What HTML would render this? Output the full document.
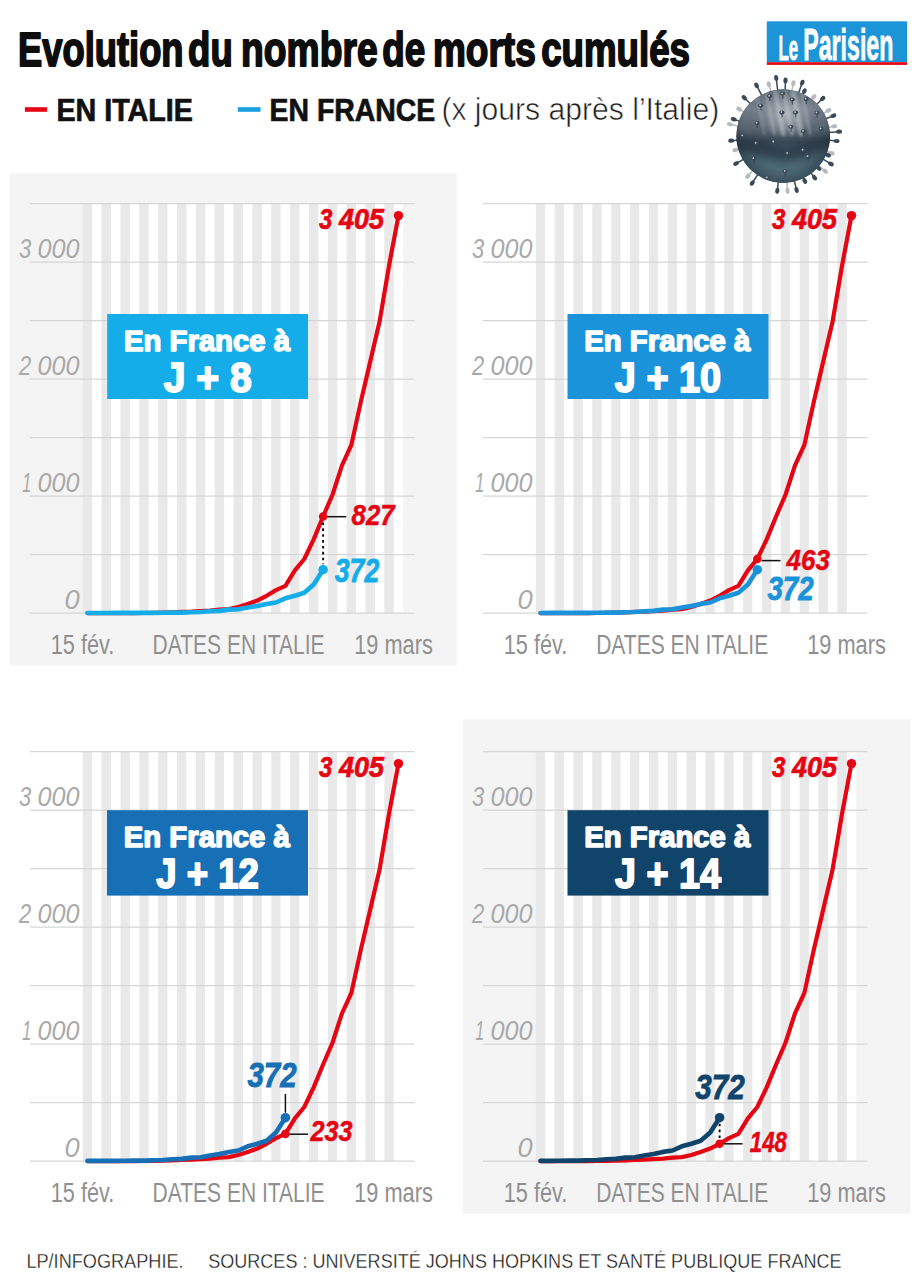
<!DOCTYPE html>
<html lang="fr"><head><meta charset="utf-8"><title>Evolution du nombre de morts cumulés</title>
<style>
html,body{margin:0;padding:0;background:#fff;}
body{width:918px;height:1280px;overflow:hidden;font-family:"Liberation Sans",sans-serif;}
svg{display:block;font-family:"Liberation Sans",sans-serif;}
</style></head><body>
<svg width="918" height="1280" viewBox="0 0 918 1280">
<defs>
<linearGradient id="vg" x1="0" y1="0" x2="0" y2="1">
<stop offset="0" stop-color="#66737f"/><stop offset=".2" stop-color="#7d8792"/><stop offset=".42" stop-color="#5d6975"/>
<stop offset=".56" stop-color="#3a4a57"/><stop offset=".72" stop-color="#46626e"/><stop offset="1" stop-color="#5f818c"/>
</linearGradient>
<filter id="bl3" x="-20%" y="-50%" width="140%" height="200%"><feGaussianBlur stdDeviation="3"/></filter>
<filter id="bl1" x="-100%" y="-20%" width="300%" height="140%"><feGaussianBlur stdDeviation="1.1"/></filter>
<radialGradient id="vh" cx=".5" cy=".5" r=".5">
<stop offset="0" stop-color="#c5c9ce" stop-opacity=".75"/><stop offset=".6" stop-color="#aab0b7" stop-opacity=".4"/><stop offset="1" stop-color="#9aa2aa" stop-opacity="0"/>
</radialGradient>
<radialGradient id="vr" cx=".5" cy=".42" r=".6">
<stop offset="0" stop-color="#1e2a36" stop-opacity="0"/><stop offset=".72" stop-color="#1e2a36" stop-opacity=".1"/>
<stop offset="1" stop-color="#1a2632" stop-opacity=".62"/>
</radialGradient>
</defs>
<rect width="918" height="1280" fill="#ffffff"/>

<text x="18.1" y="66.4" font-size="48.6" fill="#0d0d0d" font-weight="bold" font-style="normal" text-anchor="start" textLength="165.4" lengthAdjust="spacingAndGlyphs" stroke="#0d0d0d" stroke-width="1.9" stroke-linejoin="round">Evolution</text>
<text x="188.1" y="66.4" font-size="48.6" fill="#0d0d0d" font-weight="bold" font-style="normal" text-anchor="start" textLength="44.6" lengthAdjust="spacingAndGlyphs" stroke="#0d0d0d" stroke-width="1.9" stroke-linejoin="round">du</text>
<text x="241.1" y="66.4" font-size="48.6" fill="#0d0d0d" font-weight="bold" font-style="normal" text-anchor="start" textLength="136.5" lengthAdjust="spacingAndGlyphs" stroke="#0d0d0d" stroke-width="1.9" stroke-linejoin="round">nombre</text>
<text x="382.2" y="66.4" font-size="48.6" fill="#0d0d0d" font-weight="bold" font-style="normal" text-anchor="start" textLength="43.0" lengthAdjust="spacingAndGlyphs" stroke="#0d0d0d" stroke-width="1.9" stroke-linejoin="round">de</text>
<text x="432.9" y="66.4" font-size="48.6" fill="#0d0d0d" font-weight="bold" font-style="normal" text-anchor="start" textLength="102.9" lengthAdjust="spacingAndGlyphs" stroke="#0d0d0d" stroke-width="1.9" stroke-linejoin="round">morts</text>
<text x="541.2" y="66.4" font-size="48.6" fill="#0d0d0d" font-weight="bold" font-style="normal" text-anchor="start" textLength="148.8" lengthAdjust="spacingAndGlyphs" stroke="#0d0d0d" stroke-width="1.9" stroke-linejoin="round">cumulés</text>
<rect x="24.9" y="107.2" width="22.2" height="4.6" fill="#e50613"/>
<text x="56.4" y="120.6" font-size="31" fill="#111" font-weight="bold" font-style="normal" text-anchor="start" textLength="136.4" lengthAdjust="spacingAndGlyphs" stroke="#111" stroke-width="0.7">EN ITALIE</text>
<rect x="237.8" y="107.2" width="22.7" height="4.6" fill="#1a9fe0"/>
<text x="269.6" y="120.6" font-size="31" fill="#111" font-weight="bold" font-style="normal" text-anchor="start" textLength="165.6" lengthAdjust="spacingAndGlyphs" stroke="#111" stroke-width="0.7">EN FRANCE</text>
<text x="441.4" y="119.7" font-size="31" fill="#1c1c1c" font-weight="normal" font-style="normal" text-anchor="start" textLength="277.9" lengthAdjust="spacingAndGlyphs" stroke="#fff" stroke-width="0.55">(x jours après l’Italie)</text>
<rect x="766.8" y="21.3" width="140.2" height="41" fill="#1b95d8"/>
<rect x="766.8" y="62.2" width="140.2" height="2.7" fill="#e50613"/>
<text x="778.6" y="60.3" font-size="35.5" fill="#fff" font-weight="bold" font-style="normal" text-anchor="start" textLength="19.6" lengthAdjust="spacingAndGlyphs" stroke="#fff" stroke-width="0.8">Le</text>
<text x="803.2" y="60.3" font-size="44.3" fill="#fff" font-weight="bold" font-style="normal" text-anchor="start" textLength="90.2" lengthAdjust="spacingAndGlyphs" stroke="#fff" stroke-width="0.8">Parisien</text>
<g transform="translate(0,0)">
<rect x="10" y="173.3" width="446.9" height="491.99999999999994" fill="#f4f4f4"/>
<rect x="82.80" y="203.60" width="9.43" height="409.50" fill="#e9e9e9"/>
<rect x="92.22" y="203.60" width="9.43" height="409.50" fill="#ffffff"/>
<rect x="101.65" y="203.60" width="9.43" height="409.50" fill="#e9e9e9"/>
<rect x="111.08" y="203.60" width="9.43" height="409.50" fill="#ffffff"/>
<rect x="120.50" y="203.60" width="9.43" height="409.50" fill="#e9e9e9"/>
<rect x="129.93" y="203.60" width="9.43" height="409.50" fill="#ffffff"/>
<rect x="139.35" y="203.60" width="9.43" height="409.50" fill="#e9e9e9"/>
<rect x="148.78" y="203.60" width="9.43" height="409.50" fill="#ffffff"/>
<rect x="158.20" y="203.60" width="9.43" height="409.50" fill="#e9e9e9"/>
<rect x="167.62" y="203.60" width="9.43" height="409.50" fill="#ffffff"/>
<rect x="177.05" y="203.60" width="9.43" height="409.50" fill="#e9e9e9"/>
<rect x="186.48" y="203.60" width="9.43" height="409.50" fill="#ffffff"/>
<rect x="195.90" y="203.60" width="9.43" height="409.50" fill="#e9e9e9"/>
<rect x="205.32" y="203.60" width="9.43" height="409.50" fill="#ffffff"/>
<rect x="214.75" y="203.60" width="9.43" height="409.50" fill="#e9e9e9"/>
<rect x="224.18" y="203.60" width="9.43" height="409.50" fill="#ffffff"/>
<rect x="233.60" y="203.60" width="9.43" height="409.50" fill="#e9e9e9"/>
<rect x="243.03" y="203.60" width="9.43" height="409.50" fill="#ffffff"/>
<rect x="252.45" y="203.60" width="9.43" height="409.50" fill="#e9e9e9"/>
<rect x="261.88" y="203.60" width="9.43" height="409.50" fill="#ffffff"/>
<rect x="271.30" y="203.60" width="9.43" height="409.50" fill="#e9e9e9"/>
<rect x="280.73" y="203.60" width="9.43" height="409.50" fill="#ffffff"/>
<rect x="290.15" y="203.60" width="9.43" height="409.50" fill="#e9e9e9"/>
<rect x="299.57" y="203.60" width="9.43" height="409.50" fill="#ffffff"/>
<rect x="309.00" y="203.60" width="9.43" height="409.50" fill="#e9e9e9"/>
<rect x="318.43" y="203.60" width="9.43" height="409.50" fill="#ffffff"/>
<rect x="327.85" y="203.60" width="9.43" height="409.50" fill="#e9e9e9"/>
<rect x="337.28" y="203.60" width="9.43" height="409.50" fill="#ffffff"/>
<rect x="346.70" y="203.60" width="9.43" height="409.50" fill="#e9e9e9"/>
<rect x="356.13" y="203.60" width="9.43" height="409.50" fill="#ffffff"/>
<rect x="365.55" y="203.60" width="9.43" height="409.50" fill="#e9e9e9"/>
<rect x="374.98" y="203.60" width="9.43" height="409.50" fill="#ffffff"/>
<rect x="384.40" y="203.60" width="9.43" height="409.50" fill="#e9e9e9"/>
<rect x="393.83" y="203.60" width="9.43" height="409.50" fill="#ffffff"/>
<line x1="30.0" y1="613.10" x2="414.5" y2="613.10" stroke="#d6d6d6" stroke-width="1.4"/>
<line x1="30.0" y1="554.60" x2="414.5" y2="554.60" stroke="#d6d6d6" stroke-width="1.4"/>
<line x1="30.0" y1="496.10" x2="414.5" y2="496.10" stroke="#d6d6d6" stroke-width="1.4"/>
<line x1="30.0" y1="437.60" x2="414.5" y2="437.60" stroke="#d6d6d6" stroke-width="1.4"/>
<line x1="30.0" y1="379.10" x2="414.5" y2="379.10" stroke="#d6d6d6" stroke-width="1.4"/>
<line x1="30.0" y1="320.60" x2="414.5" y2="320.60" stroke="#d6d6d6" stroke-width="1.4"/>
<line x1="30.0" y1="262.10" x2="414.5" y2="262.10" stroke="#d6d6d6" stroke-width="1.4"/>
<line x1="30.0" y1="203.60" x2="414.5" y2="203.60" stroke="#d6d6d6" stroke-width="1.4"/>
<text x="79.6" y="258.0" font-size="27.3" fill="#a9a9a9" font-weight="normal" font-style="italic" text-anchor="end" textLength="42.0" lengthAdjust="spacingAndGlyphs">000</text>
<text x="31.2" y="258.0" font-size="27.3" fill="#a9a9a9" font-weight="normal" font-style="italic" text-anchor="end" textLength="12.2" lengthAdjust="spacingAndGlyphs">3</text>
<text x="79.6" y="375.0" font-size="27.3" fill="#a9a9a9" font-weight="normal" font-style="italic" text-anchor="end" textLength="42.0" lengthAdjust="spacingAndGlyphs">000</text>
<text x="31.2" y="375.0" font-size="27.3" fill="#a9a9a9" font-weight="normal" font-style="italic" text-anchor="end" textLength="12.2" lengthAdjust="spacingAndGlyphs">2</text>
<text x="79.6" y="492.0" font-size="27.3" fill="#a9a9a9" font-weight="normal" font-style="italic" text-anchor="end" textLength="42.0" lengthAdjust="spacingAndGlyphs">000</text>
<text x="31.2" y="492.0" font-size="27.3" fill="#a9a9a9" font-weight="normal" font-style="italic" text-anchor="end" textLength="9.0" lengthAdjust="spacingAndGlyphs">1</text>
<text x="79.6" y="609.0" font-size="27.3" fill="#a9a9a9" font-weight="normal" font-style="italic" text-anchor="end">0</text>
<text x="50.8" y="654.2" font-size="27" fill="#8f8f8f" font-weight="normal" font-style="normal" text-anchor="start" textLength="63.5" lengthAdjust="spacingAndGlyphs">15 fév.</text>
<text x="152.6" y="654.3" font-size="27.4" fill="#8f8f8f" font-weight="normal" font-style="normal" text-anchor="start" textLength="172.0" lengthAdjust="spacingAndGlyphs">DATES EN ITALIE</text>
<text x="354.2" y="654.2" font-size="27" fill="#8f8f8f" font-weight="normal" font-style="normal" text-anchor="start" textLength="78.6" lengthAdjust="spacingAndGlyphs">19 mars</text>
<rect x="107.2" y="314.0" width="200.9" height="85.0" fill="#14adea"/>
<text x="207.0" y="350.6" font-size="30.0" fill="#fff" font-weight="bold" font-style="normal" text-anchor="middle" textLength="166.0" lengthAdjust="spacingAndGlyphs" stroke="#fff" stroke-width="1.6" stroke-linejoin="round">En France à</text>
<text x="207.7" y="392.0" font-size="43.4" fill="#fff" font-weight="bold" font-style="normal" text-anchor="middle" textLength="88.0" lengthAdjust="spacingAndGlyphs" stroke="#fff" stroke-width="1.9" stroke-linejoin="round">J + 8</text>
<polyline points="87.5,613.1 96.9,613.1 106.4,613.1 115.8,613.1 125.2,613.1 134.6,613.1 144.1,613.0 153.5,612.9 162.9,612.7 172.3,612.3 181.8,611.9 191.2,611.7 200.6,611.1 210.0,610.6 219.5,609.7 228.9,609.1 238.3,607.0 247.7,603.9 257.2,600.6 266.6,595.8 276.0,590.1 285.4,585.9 294.9,570.4 304.3,559.0 313.7,539.4 323.1,516.5 332.6,494.5 342.0,465.3 351.4,444.9 360.8,401.9 370.3,361.2 379.7,320.9 389.1,265.4 398.5,215.6" fill="none" stroke="#e50613" stroke-width="4.2" stroke-linejoin="round" stroke-linecap="round"/>
<polyline points="87.5,613.0 96.9,613.0 106.4,613.0 115.8,612.9 125.2,612.9 134.6,612.9 144.1,612.9 153.5,612.9 162.9,612.7 172.3,612.6 181.8,612.6 191.2,612.3 200.6,612.0 210.0,611.2 219.5,610.9 228.9,609.6 238.3,609.2 247.7,607.5 257.2,606.0 266.6,603.9 276.0,602.5 285.4,598.3 294.9,595.8 304.3,592.7 313.7,584.6 323.1,569.7" fill="none" stroke="#14adea" stroke-width="4.6" stroke-linejoin="round" stroke-linecap="round"/>
<circle cx="398.5" cy="215.6" r="4.7" fill="#e50613"/>
<text x="384.0" y="228.6" font-size="29.3" fill="#e50613" font-weight="bold" font-style="italic" text-anchor="end" textLength="45.0" lengthAdjust="spacingAndGlyphs" stroke="#e50613" stroke-width="0.7">405</text>
<text x="332.4" y="228.6" font-size="29.3" fill="#e50613" font-weight="bold" font-style="italic" text-anchor="end" textLength="13.4" lengthAdjust="spacingAndGlyphs" stroke="#e50613" stroke-width="0.7">3</text>
<circle cx="323.1" cy="516.5" r="4.3" fill="#e50613"/>
<circle cx="323.1" cy="569.7" r="4.8" fill="#14adea"/>
<line x1="323.1" y1="522.5" x2="323.1" y2="564.3" stroke="#111" stroke-width="2" stroke-dasharray="2.6 3.26"/>
<line x1="327.1" y1="516.7" x2="346.3" y2="516.7" stroke="#111" stroke-width="1.5"/>
<text x="351.6" y="525.3" font-size="29.3" fill="#e50613" font-weight="bold" font-style="italic" text-anchor="start" textLength="43.0" lengthAdjust="spacingAndGlyphs" stroke="#e50613" stroke-width="0.5">827</text>
<text x="334.8" y="582.0" font-size="33" fill="#14adea" font-weight="bold" font-style="italic" text-anchor="start" textLength="44.4" lengthAdjust="spacingAndGlyphs" stroke="#14adea" stroke-width="0.8">372</text>
</g>
<g transform="translate(453,0)">
<rect x="82.80" y="203.60" width="9.43" height="409.50" fill="#e9e9e9"/>
<rect x="92.22" y="203.60" width="9.43" height="409.50" fill="#ffffff"/>
<rect x="101.65" y="203.60" width="9.43" height="409.50" fill="#e9e9e9"/>
<rect x="111.08" y="203.60" width="9.43" height="409.50" fill="#ffffff"/>
<rect x="120.50" y="203.60" width="9.43" height="409.50" fill="#e9e9e9"/>
<rect x="129.93" y="203.60" width="9.43" height="409.50" fill="#ffffff"/>
<rect x="139.35" y="203.60" width="9.43" height="409.50" fill="#e9e9e9"/>
<rect x="148.78" y="203.60" width="9.43" height="409.50" fill="#ffffff"/>
<rect x="158.20" y="203.60" width="9.43" height="409.50" fill="#e9e9e9"/>
<rect x="167.62" y="203.60" width="9.43" height="409.50" fill="#ffffff"/>
<rect x="177.05" y="203.60" width="9.43" height="409.50" fill="#e9e9e9"/>
<rect x="186.48" y="203.60" width="9.43" height="409.50" fill="#ffffff"/>
<rect x="195.90" y="203.60" width="9.43" height="409.50" fill="#e9e9e9"/>
<rect x="205.32" y="203.60" width="9.43" height="409.50" fill="#ffffff"/>
<rect x="214.75" y="203.60" width="9.43" height="409.50" fill="#e9e9e9"/>
<rect x="224.18" y="203.60" width="9.43" height="409.50" fill="#ffffff"/>
<rect x="233.60" y="203.60" width="9.43" height="409.50" fill="#e9e9e9"/>
<rect x="243.03" y="203.60" width="9.43" height="409.50" fill="#ffffff"/>
<rect x="252.45" y="203.60" width="9.43" height="409.50" fill="#e9e9e9"/>
<rect x="261.88" y="203.60" width="9.43" height="409.50" fill="#ffffff"/>
<rect x="271.30" y="203.60" width="9.43" height="409.50" fill="#e9e9e9"/>
<rect x="280.73" y="203.60" width="9.43" height="409.50" fill="#ffffff"/>
<rect x="290.15" y="203.60" width="9.43" height="409.50" fill="#e9e9e9"/>
<rect x="299.57" y="203.60" width="9.43" height="409.50" fill="#ffffff"/>
<rect x="309.00" y="203.60" width="9.43" height="409.50" fill="#e9e9e9"/>
<rect x="318.43" y="203.60" width="9.43" height="409.50" fill="#ffffff"/>
<rect x="327.85" y="203.60" width="9.43" height="409.50" fill="#e9e9e9"/>
<rect x="337.28" y="203.60" width="9.43" height="409.50" fill="#ffffff"/>
<rect x="346.70" y="203.60" width="9.43" height="409.50" fill="#e9e9e9"/>
<rect x="356.13" y="203.60" width="9.43" height="409.50" fill="#ffffff"/>
<rect x="365.55" y="203.60" width="9.43" height="409.50" fill="#e9e9e9"/>
<rect x="374.98" y="203.60" width="9.43" height="409.50" fill="#ffffff"/>
<rect x="384.40" y="203.60" width="9.43" height="409.50" fill="#e9e9e9"/>
<rect x="393.83" y="203.60" width="9.43" height="409.50" fill="#ffffff"/>
<line x1="30.0" y1="613.10" x2="414.5" y2="613.10" stroke="#d6d6d6" stroke-width="1.4"/>
<line x1="30.0" y1="554.60" x2="414.5" y2="554.60" stroke="#d6d6d6" stroke-width="1.4"/>
<line x1="30.0" y1="496.10" x2="414.5" y2="496.10" stroke="#d6d6d6" stroke-width="1.4"/>
<line x1="30.0" y1="437.60" x2="414.5" y2="437.60" stroke="#d6d6d6" stroke-width="1.4"/>
<line x1="30.0" y1="379.10" x2="414.5" y2="379.10" stroke="#d6d6d6" stroke-width="1.4"/>
<line x1="30.0" y1="320.60" x2="414.5" y2="320.60" stroke="#d6d6d6" stroke-width="1.4"/>
<line x1="30.0" y1="262.10" x2="414.5" y2="262.10" stroke="#d6d6d6" stroke-width="1.4"/>
<line x1="30.0" y1="203.60" x2="414.5" y2="203.60" stroke="#d6d6d6" stroke-width="1.4"/>
<text x="79.6" y="258.0" font-size="27.3" fill="#a9a9a9" font-weight="normal" font-style="italic" text-anchor="end" textLength="42.0" lengthAdjust="spacingAndGlyphs">000</text>
<text x="31.2" y="258.0" font-size="27.3" fill="#a9a9a9" font-weight="normal" font-style="italic" text-anchor="end" textLength="12.2" lengthAdjust="spacingAndGlyphs">3</text>
<text x="79.6" y="375.0" font-size="27.3" fill="#a9a9a9" font-weight="normal" font-style="italic" text-anchor="end" textLength="42.0" lengthAdjust="spacingAndGlyphs">000</text>
<text x="31.2" y="375.0" font-size="27.3" fill="#a9a9a9" font-weight="normal" font-style="italic" text-anchor="end" textLength="12.2" lengthAdjust="spacingAndGlyphs">2</text>
<text x="79.6" y="492.0" font-size="27.3" fill="#a9a9a9" font-weight="normal" font-style="italic" text-anchor="end" textLength="42.0" lengthAdjust="spacingAndGlyphs">000</text>
<text x="31.2" y="492.0" font-size="27.3" fill="#a9a9a9" font-weight="normal" font-style="italic" text-anchor="end" textLength="9.0" lengthAdjust="spacingAndGlyphs">1</text>
<text x="79.6" y="609.0" font-size="27.3" fill="#a9a9a9" font-weight="normal" font-style="italic" text-anchor="end">0</text>
<text x="50.8" y="654.2" font-size="27" fill="#8f8f8f" font-weight="normal" font-style="normal" text-anchor="start" textLength="63.5" lengthAdjust="spacingAndGlyphs">15 fév.</text>
<text x="143.2" y="654.3" font-size="27.4" fill="#8f8f8f" font-weight="normal" font-style="normal" text-anchor="start" textLength="172.0" lengthAdjust="spacingAndGlyphs">DATES EN ITALIE</text>
<text x="354.2" y="654.2" font-size="27" fill="#8f8f8f" font-weight="normal" font-style="normal" text-anchor="start" textLength="78.6" lengthAdjust="spacingAndGlyphs">19 mars</text>
<rect x="114.5" y="314.0" width="201" height="85.0" fill="#1b93da"/>
<text x="214.3" y="350.6" font-size="30.0" fill="#fff" font-weight="bold" font-style="normal" text-anchor="middle" textLength="166.0" lengthAdjust="spacingAndGlyphs" stroke="#fff" stroke-width="1.6" stroke-linejoin="round">En France à</text>
<text x="215.0" y="392.0" font-size="43.4" fill="#fff" font-weight="bold" font-style="normal" text-anchor="middle" textLength="106.3" lengthAdjust="spacingAndGlyphs" stroke="#fff" stroke-width="1.9" stroke-linejoin="round">J + 10</text>
<polyline points="87.5,613.1 96.9,613.1 106.4,613.1 115.8,613.1 125.2,613.1 134.6,613.1 144.1,613.0 153.5,612.9 162.9,612.7 172.3,612.3 181.8,611.9 191.2,611.7 200.6,611.1 210.0,610.6 219.5,609.7 228.9,609.1 238.3,607.0 247.7,603.9 257.2,600.6 266.6,595.8 276.0,590.1 285.4,585.9 294.9,570.4 304.3,559.0 313.7,539.4 323.1,516.5 332.6,494.5 342.0,465.3 351.4,444.9 360.8,401.9 370.3,361.2 379.7,320.9 389.1,265.4 398.5,215.6" fill="none" stroke="#e50613" stroke-width="4.2" stroke-linejoin="round" stroke-linecap="round"/>
<polyline points="87.5,613.0 96.9,612.9 106.4,612.9 115.8,612.9 125.2,612.9 134.6,612.9 144.1,612.7 153.5,612.6 162.9,612.6 172.3,612.3 181.8,612.0 191.2,611.2 200.6,610.9 210.0,609.6 219.5,609.2 228.9,607.5 238.3,606.0 247.7,603.9 257.2,602.5 266.6,598.3 276.0,595.8 285.4,592.7 294.9,584.6 304.3,569.7" fill="none" stroke="#1b93da" stroke-width="4.6" stroke-linejoin="round" stroke-linecap="round"/>
<circle cx="398.5" cy="215.6" r="4.7" fill="#e50613"/>
<text x="384.0" y="228.6" font-size="29.3" fill="#e50613" font-weight="bold" font-style="italic" text-anchor="end" textLength="45.0" lengthAdjust="spacingAndGlyphs" stroke="#e50613" stroke-width="0.7">405</text>
<text x="332.4" y="228.6" font-size="29.3" fill="#e50613" font-weight="bold" font-style="italic" text-anchor="end" textLength="13.4" lengthAdjust="spacingAndGlyphs" stroke="#e50613" stroke-width="0.7">3</text>
<circle cx="304.3" cy="559.0" r="4.3" fill="#e50613"/>
<circle cx="304.3" cy="569.7" r="4.8" fill="#1b93da"/>
<line x1="308.8" y1="560.6" x2="327.5" y2="560.6" stroke="#111" stroke-width="1.5"/>
<text x="333.5" y="569.6" font-size="29.3" fill="#e50613" font-weight="bold" font-style="italic" text-anchor="start" textLength="43.4" lengthAdjust="spacingAndGlyphs" stroke="#e50613" stroke-width="0.5">463</text>
<text x="314.4" y="599.8" font-size="33" fill="#1b93da" font-weight="bold" font-style="italic" text-anchor="start" textLength="46.3" lengthAdjust="spacingAndGlyphs" stroke="#1b93da" stroke-width="0.8">372</text>
</g>
<g transform="translate(0,548)">
<rect x="82.80" y="203.60" width="9.43" height="409.50" fill="#e9e9e9"/>
<rect x="92.22" y="203.60" width="9.43" height="409.50" fill="#ffffff"/>
<rect x="101.65" y="203.60" width="9.43" height="409.50" fill="#e9e9e9"/>
<rect x="111.08" y="203.60" width="9.43" height="409.50" fill="#ffffff"/>
<rect x="120.50" y="203.60" width="9.43" height="409.50" fill="#e9e9e9"/>
<rect x="129.93" y="203.60" width="9.43" height="409.50" fill="#ffffff"/>
<rect x="139.35" y="203.60" width="9.43" height="409.50" fill="#e9e9e9"/>
<rect x="148.78" y="203.60" width="9.43" height="409.50" fill="#ffffff"/>
<rect x="158.20" y="203.60" width="9.43" height="409.50" fill="#e9e9e9"/>
<rect x="167.62" y="203.60" width="9.43" height="409.50" fill="#ffffff"/>
<rect x="177.05" y="203.60" width="9.43" height="409.50" fill="#e9e9e9"/>
<rect x="186.48" y="203.60" width="9.43" height="409.50" fill="#ffffff"/>
<rect x="195.90" y="203.60" width="9.43" height="409.50" fill="#e9e9e9"/>
<rect x="205.32" y="203.60" width="9.43" height="409.50" fill="#ffffff"/>
<rect x="214.75" y="203.60" width="9.43" height="409.50" fill="#e9e9e9"/>
<rect x="224.18" y="203.60" width="9.43" height="409.50" fill="#ffffff"/>
<rect x="233.60" y="203.60" width="9.43" height="409.50" fill="#e9e9e9"/>
<rect x="243.03" y="203.60" width="9.43" height="409.50" fill="#ffffff"/>
<rect x="252.45" y="203.60" width="9.43" height="409.50" fill="#e9e9e9"/>
<rect x="261.88" y="203.60" width="9.43" height="409.50" fill="#ffffff"/>
<rect x="271.30" y="203.60" width="9.43" height="409.50" fill="#e9e9e9"/>
<rect x="280.73" y="203.60" width="9.43" height="409.50" fill="#ffffff"/>
<rect x="290.15" y="203.60" width="9.43" height="409.50" fill="#e9e9e9"/>
<rect x="299.57" y="203.60" width="9.43" height="409.50" fill="#ffffff"/>
<rect x="309.00" y="203.60" width="9.43" height="409.50" fill="#e9e9e9"/>
<rect x="318.43" y="203.60" width="9.43" height="409.50" fill="#ffffff"/>
<rect x="327.85" y="203.60" width="9.43" height="409.50" fill="#e9e9e9"/>
<rect x="337.28" y="203.60" width="9.43" height="409.50" fill="#ffffff"/>
<rect x="346.70" y="203.60" width="9.43" height="409.50" fill="#e9e9e9"/>
<rect x="356.13" y="203.60" width="9.43" height="409.50" fill="#ffffff"/>
<rect x="365.55" y="203.60" width="9.43" height="409.50" fill="#e9e9e9"/>
<rect x="374.98" y="203.60" width="9.43" height="409.50" fill="#ffffff"/>
<rect x="384.40" y="203.60" width="9.43" height="409.50" fill="#e9e9e9"/>
<rect x="393.83" y="203.60" width="9.43" height="409.50" fill="#ffffff"/>
<line x1="30.0" y1="613.10" x2="414.5" y2="613.10" stroke="#d6d6d6" stroke-width="1.4"/>
<line x1="30.0" y1="554.60" x2="414.5" y2="554.60" stroke="#d6d6d6" stroke-width="1.4"/>
<line x1="30.0" y1="496.10" x2="414.5" y2="496.10" stroke="#d6d6d6" stroke-width="1.4"/>
<line x1="30.0" y1="437.60" x2="414.5" y2="437.60" stroke="#d6d6d6" stroke-width="1.4"/>
<line x1="30.0" y1="379.10" x2="414.5" y2="379.10" stroke="#d6d6d6" stroke-width="1.4"/>
<line x1="30.0" y1="320.60" x2="414.5" y2="320.60" stroke="#d6d6d6" stroke-width="1.4"/>
<line x1="30.0" y1="262.10" x2="414.5" y2="262.10" stroke="#d6d6d6" stroke-width="1.4"/>
<line x1="30.0" y1="203.60" x2="414.5" y2="203.60" stroke="#d6d6d6" stroke-width="1.4"/>
<text x="79.6" y="258.0" font-size="27.3" fill="#a9a9a9" font-weight="normal" font-style="italic" text-anchor="end" textLength="42.0" lengthAdjust="spacingAndGlyphs">000</text>
<text x="31.2" y="258.0" font-size="27.3" fill="#a9a9a9" font-weight="normal" font-style="italic" text-anchor="end" textLength="12.2" lengthAdjust="spacingAndGlyphs">3</text>
<text x="79.6" y="375.0" font-size="27.3" fill="#a9a9a9" font-weight="normal" font-style="italic" text-anchor="end" textLength="42.0" lengthAdjust="spacingAndGlyphs">000</text>
<text x="31.2" y="375.0" font-size="27.3" fill="#a9a9a9" font-weight="normal" font-style="italic" text-anchor="end" textLength="12.2" lengthAdjust="spacingAndGlyphs">2</text>
<text x="79.6" y="492.0" font-size="27.3" fill="#a9a9a9" font-weight="normal" font-style="italic" text-anchor="end" textLength="42.0" lengthAdjust="spacingAndGlyphs">000</text>
<text x="31.2" y="492.0" font-size="27.3" fill="#a9a9a9" font-weight="normal" font-style="italic" text-anchor="end" textLength="9.0" lengthAdjust="spacingAndGlyphs">1</text>
<text x="79.6" y="609.0" font-size="27.3" fill="#a9a9a9" font-weight="normal" font-style="italic" text-anchor="end">0</text>
<text x="50.8" y="654.2" font-size="27" fill="#8f8f8f" font-weight="normal" font-style="normal" text-anchor="start" textLength="63.5" lengthAdjust="spacingAndGlyphs">15 fév.</text>
<text x="152.6" y="654.3" font-size="27.4" fill="#8f8f8f" font-weight="normal" font-style="normal" text-anchor="start" textLength="172.0" lengthAdjust="spacingAndGlyphs">DATES EN ITALIE</text>
<text x="354.2" y="654.2" font-size="27" fill="#8f8f8f" font-weight="normal" font-style="normal" text-anchor="start" textLength="78.6" lengthAdjust="spacingAndGlyphs">19 mars</text>
<rect x="107.0" y="262.2" width="201" height="85.4" fill="#1770b5"/>
<text x="206.8" y="298.8" font-size="30.0" fill="#fff" font-weight="bold" font-style="normal" text-anchor="middle" textLength="166.0" lengthAdjust="spacingAndGlyphs" stroke="#fff" stroke-width="1.6" stroke-linejoin="round">En France à</text>
<text x="207.5" y="340.2" font-size="43.4" fill="#fff" font-weight="bold" font-style="normal" text-anchor="middle" textLength="102.7" lengthAdjust="spacingAndGlyphs" stroke="#fff" stroke-width="1.9" stroke-linejoin="round">J + 12</text>
<polyline points="87.5,613.1 96.9,613.1 106.4,613.1 115.8,613.1 125.2,613.1 134.6,613.1 144.1,613.0 153.5,612.9 162.9,612.7 172.3,612.3 181.8,611.9 191.2,611.7 200.6,611.1 210.0,610.6 219.5,609.7 228.9,609.1 238.3,607.0 247.7,603.9 257.2,600.6 266.6,595.8 276.0,590.1 285.4,585.9 294.9,570.4 304.3,559.0 313.7,539.4 323.1,516.5 332.6,494.5 342.0,465.3 351.4,444.9 360.8,401.9 370.3,361.2 379.7,320.9 389.1,265.4 398.5,215.6" fill="none" stroke="#e50613" stroke-width="4.2" stroke-linejoin="round" stroke-linecap="round"/>
<polyline points="87.5,612.9 96.9,612.9 106.4,612.9 115.8,612.9 125.2,612.7 134.6,612.6 144.1,612.6 153.5,612.3 162.9,612.0 172.3,611.2 181.8,610.9 191.2,609.6 200.6,609.2 210.0,607.5 219.5,606.0 228.9,603.9 238.3,602.5 247.7,598.3 257.2,595.8 266.6,592.7 276.0,584.6 285.4,569.7" fill="none" stroke="#1770b5" stroke-width="4.6" stroke-linejoin="round" stroke-linecap="round"/>
<circle cx="398.5" cy="215.6" r="4.7" fill="#e50613"/>
<text x="384.0" y="228.6" font-size="29.3" fill="#e50613" font-weight="bold" font-style="italic" text-anchor="end" textLength="45.0" lengthAdjust="spacingAndGlyphs" stroke="#e50613" stroke-width="0.7">405</text>
<text x="332.4" y="228.6" font-size="29.3" fill="#e50613" font-weight="bold" font-style="italic" text-anchor="end" textLength="13.4" lengthAdjust="spacingAndGlyphs" stroke="#e50613" stroke-width="0.7">3</text>
<circle cx="285.4" cy="585.9" r="4.3" fill="#e50613"/>
<circle cx="285.4" cy="569.7" r="4.8" fill="#1770b5"/>
<line x1="285.4" y1="545.9" x2="285.4" y2="564.7" stroke="#111" stroke-width="1.5"/>
<line x1="289.4" y1="586.2" x2="308.0" y2="586.2" stroke="#111" stroke-width="1.5"/>
<text x="310.4" y="593.0" font-size="29.3" fill="#e50613" font-weight="bold" font-style="italic" text-anchor="start" textLength="42.1" lengthAdjust="spacingAndGlyphs" stroke="#e50613" stroke-width="0.5">233</text>
<text x="247.4" y="539.0" font-size="35" fill="#1770b5" font-weight="bold" font-style="italic" text-anchor="start" textLength="49.3" lengthAdjust="spacingAndGlyphs" stroke="#1770b5" stroke-width="0.8">372</text>
</g>
<g transform="translate(453,548)">
<rect x="10" y="171.2" width="447.1" height="494.50000000000006" fill="#f4f4f4"/>
<rect x="82.80" y="203.60" width="9.43" height="409.50" fill="#e9e9e9"/>
<rect x="92.22" y="203.60" width="9.43" height="409.50" fill="#ffffff"/>
<rect x="101.65" y="203.60" width="9.43" height="409.50" fill="#e9e9e9"/>
<rect x="111.08" y="203.60" width="9.43" height="409.50" fill="#ffffff"/>
<rect x="120.50" y="203.60" width="9.43" height="409.50" fill="#e9e9e9"/>
<rect x="129.93" y="203.60" width="9.43" height="409.50" fill="#ffffff"/>
<rect x="139.35" y="203.60" width="9.43" height="409.50" fill="#e9e9e9"/>
<rect x="148.78" y="203.60" width="9.43" height="409.50" fill="#ffffff"/>
<rect x="158.20" y="203.60" width="9.43" height="409.50" fill="#e9e9e9"/>
<rect x="167.62" y="203.60" width="9.43" height="409.50" fill="#ffffff"/>
<rect x="177.05" y="203.60" width="9.43" height="409.50" fill="#e9e9e9"/>
<rect x="186.48" y="203.60" width="9.43" height="409.50" fill="#ffffff"/>
<rect x="195.90" y="203.60" width="9.43" height="409.50" fill="#e9e9e9"/>
<rect x="205.32" y="203.60" width="9.43" height="409.50" fill="#ffffff"/>
<rect x="214.75" y="203.60" width="9.43" height="409.50" fill="#e9e9e9"/>
<rect x="224.18" y="203.60" width="9.43" height="409.50" fill="#ffffff"/>
<rect x="233.60" y="203.60" width="9.43" height="409.50" fill="#e9e9e9"/>
<rect x="243.03" y="203.60" width="9.43" height="409.50" fill="#ffffff"/>
<rect x="252.45" y="203.60" width="9.43" height="409.50" fill="#e9e9e9"/>
<rect x="261.88" y="203.60" width="9.43" height="409.50" fill="#ffffff"/>
<rect x="271.30" y="203.60" width="9.43" height="409.50" fill="#e9e9e9"/>
<rect x="280.73" y="203.60" width="9.43" height="409.50" fill="#ffffff"/>
<rect x="290.15" y="203.60" width="9.43" height="409.50" fill="#e9e9e9"/>
<rect x="299.57" y="203.60" width="9.43" height="409.50" fill="#ffffff"/>
<rect x="309.00" y="203.60" width="9.43" height="409.50" fill="#e9e9e9"/>
<rect x="318.43" y="203.60" width="9.43" height="409.50" fill="#ffffff"/>
<rect x="327.85" y="203.60" width="9.43" height="409.50" fill="#e9e9e9"/>
<rect x="337.28" y="203.60" width="9.43" height="409.50" fill="#ffffff"/>
<rect x="346.70" y="203.60" width="9.43" height="409.50" fill="#e9e9e9"/>
<rect x="356.13" y="203.60" width="9.43" height="409.50" fill="#ffffff"/>
<rect x="365.55" y="203.60" width="9.43" height="409.50" fill="#e9e9e9"/>
<rect x="374.98" y="203.60" width="9.43" height="409.50" fill="#ffffff"/>
<rect x="384.40" y="203.60" width="9.43" height="409.50" fill="#e9e9e9"/>
<rect x="393.83" y="203.60" width="9.43" height="409.50" fill="#ffffff"/>
<line x1="30.0" y1="613.10" x2="414.5" y2="613.10" stroke="#d6d6d6" stroke-width="1.4"/>
<line x1="30.0" y1="554.60" x2="414.5" y2="554.60" stroke="#d6d6d6" stroke-width="1.4"/>
<line x1="30.0" y1="496.10" x2="414.5" y2="496.10" stroke="#d6d6d6" stroke-width="1.4"/>
<line x1="30.0" y1="437.60" x2="414.5" y2="437.60" stroke="#d6d6d6" stroke-width="1.4"/>
<line x1="30.0" y1="379.10" x2="414.5" y2="379.10" stroke="#d6d6d6" stroke-width="1.4"/>
<line x1="30.0" y1="320.60" x2="414.5" y2="320.60" stroke="#d6d6d6" stroke-width="1.4"/>
<line x1="30.0" y1="262.10" x2="414.5" y2="262.10" stroke="#d6d6d6" stroke-width="1.4"/>
<line x1="30.0" y1="203.60" x2="414.5" y2="203.60" stroke="#d6d6d6" stroke-width="1.4"/>
<text x="79.6" y="258.0" font-size="27.3" fill="#a9a9a9" font-weight="normal" font-style="italic" text-anchor="end" textLength="42.0" lengthAdjust="spacingAndGlyphs">000</text>
<text x="31.2" y="258.0" font-size="27.3" fill="#a9a9a9" font-weight="normal" font-style="italic" text-anchor="end" textLength="12.2" lengthAdjust="spacingAndGlyphs">3</text>
<text x="79.6" y="375.0" font-size="27.3" fill="#a9a9a9" font-weight="normal" font-style="italic" text-anchor="end" textLength="42.0" lengthAdjust="spacingAndGlyphs">000</text>
<text x="31.2" y="375.0" font-size="27.3" fill="#a9a9a9" font-weight="normal" font-style="italic" text-anchor="end" textLength="12.2" lengthAdjust="spacingAndGlyphs">2</text>
<text x="79.6" y="492.0" font-size="27.3" fill="#a9a9a9" font-weight="normal" font-style="italic" text-anchor="end" textLength="42.0" lengthAdjust="spacingAndGlyphs">000</text>
<text x="31.2" y="492.0" font-size="27.3" fill="#a9a9a9" font-weight="normal" font-style="italic" text-anchor="end" textLength="9.0" lengthAdjust="spacingAndGlyphs">1</text>
<text x="79.6" y="609.0" font-size="27.3" fill="#a9a9a9" font-weight="normal" font-style="italic" text-anchor="end">0</text>
<text x="50.8" y="654.2" font-size="27" fill="#8f8f8f" font-weight="normal" font-style="normal" text-anchor="start" textLength="63.5" lengthAdjust="spacingAndGlyphs">15 fév.</text>
<text x="143.2" y="654.3" font-size="27.4" fill="#8f8f8f" font-weight="normal" font-style="normal" text-anchor="start" textLength="172.0" lengthAdjust="spacingAndGlyphs">DATES EN ITALIE</text>
<text x="354.2" y="654.2" font-size="27" fill="#8f8f8f" font-weight="normal" font-style="normal" text-anchor="start" textLength="78.6" lengthAdjust="spacingAndGlyphs">19 mars</text>
<rect x="114.5" y="262.2" width="201" height="85.4" fill="#10446b"/>
<text x="214.3" y="298.8" font-size="30.0" fill="#fff" font-weight="bold" font-style="normal" text-anchor="middle" textLength="166.0" lengthAdjust="spacingAndGlyphs" stroke="#fff" stroke-width="1.6" stroke-linejoin="round">En France à</text>
<text x="215.0" y="340.2" font-size="43.4" fill="#fff" font-weight="bold" font-style="normal" text-anchor="middle" textLength="105.8" lengthAdjust="spacingAndGlyphs" stroke="#fff" stroke-width="1.9" stroke-linejoin="round">J + 14</text>
<polyline points="87.5,613.1 96.9,613.1 106.4,613.1 115.8,613.1 125.2,613.1 134.6,613.1 144.1,613.0 153.5,612.9 162.9,612.7 172.3,612.3 181.8,611.9 191.2,611.7 200.6,611.1 210.0,610.6 219.5,609.7 228.9,609.1 238.3,607.0 247.7,603.9 257.2,600.6 266.6,595.8 276.0,590.1 285.4,585.9 294.9,570.4 304.3,559.0 313.7,539.4 323.1,516.5 332.6,494.5 342.0,465.3 351.4,444.9 360.8,401.9 370.3,361.2 379.7,320.9 389.1,265.4 398.5,215.6" fill="none" stroke="#e50613" stroke-width="4.2" stroke-linejoin="round" stroke-linecap="round"/>
<polyline points="87.5,612.9 96.9,612.9 106.4,612.7 115.8,612.6 125.2,612.6 134.6,612.3 144.1,612.0 153.5,611.2 162.9,610.9 172.3,609.6 181.8,609.2 191.2,607.5 200.6,606.0 210.0,603.9 219.5,602.5 228.9,598.3 238.3,595.8 247.7,592.7 257.2,584.6 266.6,569.7" fill="none" stroke="#10446b" stroke-width="4.6" stroke-linejoin="round" stroke-linecap="round"/>
<circle cx="398.5" cy="215.6" r="4.7" fill="#e50613"/>
<text x="384.0" y="228.6" font-size="29.3" fill="#e50613" font-weight="bold" font-style="italic" text-anchor="end" textLength="45.0" lengthAdjust="spacingAndGlyphs" stroke="#e50613" stroke-width="0.7">405</text>
<text x="332.4" y="228.6" font-size="29.3" fill="#e50613" font-weight="bold" font-style="italic" text-anchor="end" textLength="13.4" lengthAdjust="spacingAndGlyphs" stroke="#e50613" stroke-width="0.7">3</text>
<circle cx="266.6" cy="595.8" r="4.3" fill="#e50613"/>
<circle cx="266.6" cy="569.7" r="4.8" fill="#10446b"/>
<line x1="266.6" y1="575.7" x2="266.6" y2="592.3" stroke="#111" stroke-width="2" stroke-dasharray="2.6 3.26"/>
<line x1="271.1" y1="595.8" x2="289.6" y2="595.8" stroke="#111" stroke-width="1.5"/>
<text x="296.8" y="604.0" font-size="29.3" fill="#e50613" font-weight="bold" font-style="italic" text-anchor="start" textLength="37.2" lengthAdjust="spacingAndGlyphs" stroke="#e50613" stroke-width="0.5">148</text>
<text x="242.3" y="551.0" font-size="35" fill="#10446b" font-weight="bold" font-style="italic" text-anchor="start" textLength="49.6" lengthAdjust="spacingAndGlyphs" stroke="#10446b" stroke-width="0.8">372</text>
</g>
<g>
<line x1="777.9" y1="92.4" x2="776.2" y2="78.1" stroke="#3a4b57" stroke-width="1.5"/>
<ellipse cx="776.2" cy="78.1" rx="3.0" ry="2.1" fill="#3a4b57" transform="rotate(-97 776.2 78.1)"/>
<line x1="785.0" y1="92.1" x2="785.5" y2="80.5" stroke="#3a4b57" stroke-width="1.5"/>
<ellipse cx="785.5" cy="80.5" rx="3.0" ry="2.1" fill="#3a4b57" transform="rotate(-88 785.5 80.5)"/>
<line x1="791.5" y1="92.9" x2="793.3" y2="83.3" stroke="#b4babe" stroke-width="1.5"/>
<ellipse cx="793.3" cy="83.3" rx="3.0" ry="2.1" fill="#b4babe" transform="rotate(-79 793.3 83.3)"/>
<line x1="798.0" y1="94.7" x2="802.3" y2="82.6" stroke="#3a4b57" stroke-width="1.5"/>
<ellipse cx="802.3" cy="82.6" rx="3.0" ry="2.1" fill="#3a4b57" transform="rotate(-70 802.3 82.6)"/>
<line x1="802.0" y1="96.3" x2="804.4" y2="91.1" stroke="#3a4b57" stroke-width="1.5"/>
<ellipse cx="804.4" cy="91.1" rx="3.0" ry="2.1" fill="#3a4b57" transform="rotate(-65 804.4 91.1)"/>
<line x1="810.2" y1="101.4" x2="813.8" y2="96.9" stroke="#b4babe" stroke-width="1.5"/>
<ellipse cx="813.8" cy="96.9" rx="3.0" ry="2.1" fill="#b4babe" transform="rotate(-52 813.8 96.9)"/>
<line x1="815.1" y1="105.8" x2="822.7" y2="98.5" stroke="#3a4b57" stroke-width="1.5"/>
<ellipse cx="822.7" cy="98.5" rx="3.0" ry="2.1" fill="#3a4b57" transform="rotate(-44 822.7 98.5)"/>
<line x1="821.5" y1="114.4" x2="828.5" y2="110.4" stroke="#b4babe" stroke-width="1.5"/>
<ellipse cx="828.5" cy="110.4" rx="3.0" ry="2.1" fill="#b4babe" transform="rotate(-30 828.5 110.4)"/>
<line x1="823.9" y1="119.5" x2="833.4" y2="115.7" stroke="#3a4b57" stroke-width="1.5"/>
<ellipse cx="833.4" cy="115.7" rx="3.0" ry="2.1" fill="#3a4b57" transform="rotate(-22 833.4 115.7)"/>
<line x1="826.4" y1="127.8" x2="834.2" y2="126.3" stroke="#b4babe" stroke-width="1.5"/>
<ellipse cx="834.2" cy="126.3" rx="3.0" ry="2.1" fill="#b4babe" transform="rotate(-11 834.2 126.3)"/>
<line x1="827.1" y1="132.6" x2="839.1" y2="131.7" stroke="#3a4b57" stroke-width="1.5"/>
<ellipse cx="839.1" cy="131.7" rx="3.0" ry="2.1" fill="#3a4b57" transform="rotate(-5 839.1 131.7)"/>
<line x1="827.0" y1="140.1" x2="836.6" y2="141.0" stroke="#3a4b57" stroke-width="1.5"/>
<ellipse cx="836.6" cy="141.0" rx="3.0" ry="2.1" fill="#3a4b57" transform="rotate(5 836.6 141.0)"/>
<line x1="824.7" y1="150.7" x2="831.7" y2="153.2" stroke="#b4babe" stroke-width="1.5"/>
<ellipse cx="831.7" cy="153.2" rx="3.0" ry="2.1" fill="#b4babe" transform="rotate(19 831.7 153.2)"/>
<line x1="823.7" y1="153.4" x2="828.0" y2="155.2" stroke="#3a4b57" stroke-width="1.5"/>
<ellipse cx="828.0" cy="155.2" rx="3.0" ry="2.1" fill="#3a4b57" transform="rotate(23 828.0 155.2)"/>
<line x1="821.2" y1="158.2" x2="830.9" y2="163.9" stroke="#3a4b57" stroke-width="1.5"/>
<ellipse cx="830.9" cy="163.9" rx="3.0" ry="2.1" fill="#3a4b57" transform="rotate(30 830.9 163.9)"/>
<line x1="817.0" y1="164.3" x2="825.2" y2="171.2" stroke="#b4babe" stroke-width="1.5"/>
<ellipse cx="825.2" cy="171.2" rx="3.0" ry="2.1" fill="#b4babe" transform="rotate(40 825.2 171.2)"/>
<line x1="815.8" y1="165.7" x2="818.7" y2="168.3" stroke="#3a4b57" stroke-width="1.5"/>
<ellipse cx="818.7" cy="168.3" rx="3.0" ry="2.1" fill="#3a4b57" transform="rotate(42 818.7 168.3)"/>
<line x1="809.7" y1="171.2" x2="814.6" y2="177.7" stroke="#3a4b57" stroke-width="1.5"/>
<ellipse cx="814.6" cy="177.7" rx="3.0" ry="2.1" fill="#3a4b57" transform="rotate(53 814.6 177.7)"/>
<line x1="802.2" y1="175.8" x2="804.8" y2="181.0" stroke="#3a4b57" stroke-width="1.5"/>
<ellipse cx="804.8" cy="181.0" rx="3.0" ry="2.1" fill="#3a4b57" transform="rotate(64 804.8 181.0)"/>
<line x1="793.8" y1="178.8" x2="796.6" y2="190.0" stroke="#3a4b57" stroke-width="1.5"/>
<ellipse cx="796.6" cy="190.0" rx="3.0" ry="2.1" fill="#3a4b57" transform="rotate(76 796.6 190.0)"/>
<line x1="786.7" y1="180.0" x2="787.6" y2="190.8" stroke="#b4babe" stroke-width="1.5"/>
<ellipse cx="787.6" cy="190.8" rx="3.0" ry="2.1" fill="#b4babe" transform="rotate(85 787.6 190.8)"/>
<line x1="778.5" y1="179.8" x2="777.3" y2="190.8" stroke="#3a4b57" stroke-width="1.5"/>
<ellipse cx="777.3" cy="190.8" rx="3.0" ry="2.1" fill="#3a4b57" transform="rotate(96 777.3 190.8)"/>
<line x1="758.9" y1="172.8" x2="752.2" y2="183.0" stroke="#3a4b57" stroke-width="1.5"/>
<ellipse cx="752.2" cy="183.0" rx="3.0" ry="2.1" fill="#3a4b57" transform="rotate(124 752.2 183.0)"/>
<line x1="754.1" y1="169.1" x2="747.9" y2="176.1" stroke="#b4babe" stroke-width="1.5"/>
<ellipse cx="747.9" cy="176.1" rx="3.0" ry="2.1" fill="#b4babe" transform="rotate(131 747.9 176.1)"/>
<line x1="745.2" y1="158.3" x2="736.1" y2="163.5" stroke="#3a4b57" stroke-width="1.5"/>
<ellipse cx="736.1" cy="163.5" rx="3.0" ry="2.1" fill="#3a4b57" transform="rotate(150 736.1 163.5)"/>
<line x1="740.9" y1="148.3" x2="735.3" y2="150.0" stroke="#b4babe" stroke-width="1.5"/>
<ellipse cx="735.3" cy="150.0" rx="3.0" ry="2.1" fill="#b4babe" transform="rotate(164 735.3 150.0)"/>
<line x1="739.4" y1="139.9" x2="731.2" y2="140.7" stroke="#3a4b57" stroke-width="1.5"/>
<ellipse cx="731.2" cy="140.7" rx="3.0" ry="2.1" fill="#3a4b57" transform="rotate(175 731.2 140.7)"/>
<line x1="740.3" y1="126.5" x2="729.9" y2="124.2" stroke="#b4babe" stroke-width="1.5"/>
<ellipse cx="729.9" cy="124.2" rx="3.0" ry="2.1" fill="#b4babe" transform="rotate(-167 729.9 124.2)"/>
<line x1="741.5" y1="121.9" x2="733.7" y2="119.2" stroke="#3a4b57" stroke-width="1.5"/>
<ellipse cx="733.7" cy="119.2" rx="3.0" ry="2.1" fill="#3a4b57" transform="rotate(-161 733.7 119.2)"/>
<line x1="745.7" y1="113.1" x2="739.1" y2="109.1" stroke="#b4babe" stroke-width="1.5"/>
<ellipse cx="739.1" cy="109.1" rx="3.0" ry="2.1" fill="#b4babe" transform="rotate(-149 739.1 109.1)"/>
<line x1="751.9" y1="105.2" x2="744.3" y2="97.7" stroke="#3a4b57" stroke-width="1.5"/>
<ellipse cx="744.3" cy="97.7" rx="3.0" ry="2.1" fill="#3a4b57" transform="rotate(-135 744.3 97.7)"/>
<line x1="762.7" y1="97.2" x2="756.6" y2="85.4" stroke="#3a4b57" stroke-width="1.5"/>
<ellipse cx="756.6" cy="85.4" rx="3.0" ry="2.1" fill="#3a4b57" transform="rotate(-118 756.6 85.4)"/>
<line x1="771.4" y1="93.7" x2="768.8" y2="84.3" stroke="#b4babe" stroke-width="1.5"/>
<ellipse cx="768.8" cy="84.3" rx="3.0" ry="2.1" fill="#b4babe" transform="rotate(-106 768.8 84.3)"/>
<clipPath id="vc"><circle cx="783.2" cy="136.1" r="47"/></clipPath>
<g clip-path="url(#vc)">
<circle cx="783.2" cy="136.1" r="47" fill="url(#vg)"/>
<ellipse cx="786.2" cy="114.1" rx="30" ry="24" fill="url(#vh)"/>
<line x1="766.2" y1="92.1" x2="774.2" y2="134.1" stroke="#dfe3e7" stroke-width="3.2" opacity="0.28" stroke-linecap="round" filter="url(#bl1)"/>
<line x1="775.2" y1="92.1" x2="783.2" y2="134.1" stroke="#dfe3e7" stroke-width="4.5" opacity="0.35" stroke-linecap="round" filter="url(#bl1)"/>
<line x1="784.2" y1="92.1" x2="792.2" y2="134.1" stroke="#dfe3e7" stroke-width="3.5" opacity="0.3" stroke-linecap="round" filter="url(#bl1)"/>
<line x1="793.2" y1="92.1" x2="801.2" y2="134.1" stroke="#dfe3e7" stroke-width="5" opacity="0.38" stroke-linecap="round" filter="url(#bl1)"/>
<line x1="802.2" y1="92.1" x2="810.2" y2="134.1" stroke="#dfe3e7" stroke-width="3" opacity="0.25" stroke-linecap="round" filter="url(#bl1)"/>
<line x1="756.2" y1="92.1" x2="764.2" y2="134.1" stroke="#dfe3e7" stroke-width="3" opacity="0.18" stroke-linecap="round" filter="url(#bl1)"/>
<path d="M733.2,134.1 Q763.2,140.1 785.2,148.1 Q808.2,142.1 833.2,132.1 L833.2,144.1 Q805.2,160.1 783.2,160.1 Q758.2,156.1 733.2,148.1 Z" fill="#25323f" opacity=".6" filter="url(#bl3)"/>
<circle cx="783.2" cy="136.1" r="47" fill="url(#vr)"/>
<line x1="769.6" y1="96.0" x2="769.9" y2="101.0" stroke="#33434f" stroke-width="1.3" opacity=".75"/>
<ellipse cx="769.6" cy="96.0" rx="2.6" ry="2.0" fill="#3a4955"/>
<circle cx="769.1" cy="95.7" r="0.9" fill="#d4dade" opacity=".9"/>
<line x1="782.7" y1="93.6" x2="783.0" y2="98.6" stroke="#33434f" stroke-width="1.3" opacity=".75"/>
<ellipse cx="782.7" cy="93.6" rx="2.6" ry="2.0" fill="#3a4955"/>
<circle cx="782.2" cy="93.3" r="0.9" fill="#d4dade" opacity=".9"/>
<line x1="792.2" y1="99.6" x2="792.5" y2="104.6" stroke="#33434f" stroke-width="1.3" opacity=".75"/>
<ellipse cx="792.2" cy="99.6" rx="2.6" ry="2.0" fill="#3a4955"/>
<circle cx="791.7" cy="99.3" r="0.9" fill="#d4dade" opacity=".9"/>
<line x1="806.1" y1="99.0" x2="806.4" y2="104.0" stroke="#33434f" stroke-width="1.3" opacity=".75"/>
<ellipse cx="806.1" cy="99.0" rx="2.6" ry="2.0" fill="#3a4955"/>
<circle cx="805.6" cy="98.7" r="0.9" fill="#d4dade" opacity=".9"/>
<line x1="760.7" y1="105.5" x2="761.0" y2="110.5" stroke="#33434f" stroke-width="1.3" opacity=".75"/>
<ellipse cx="760.7" cy="105.5" rx="2.6" ry="2.0" fill="#3a4955"/>
<circle cx="760.2" cy="105.2" r="0.9" fill="#d4dade" opacity=".9"/>
<line x1="781.9" y1="112.4" x2="782.2" y2="117.4" stroke="#33434f" stroke-width="1.3" opacity=".75"/>
<ellipse cx="781.9" cy="112.4" rx="2.6" ry="2.0" fill="#3a4955"/>
<circle cx="781.4" cy="112.1" r="0.9" fill="#d4dade" opacity=".9"/>
<line x1="795.5" y1="112.4" x2="795.8" y2="117.4" stroke="#33434f" stroke-width="1.3" opacity=".75"/>
<ellipse cx="795.5" cy="112.4" rx="2.6" ry="2.0" fill="#3a4955"/>
<circle cx="795.0" cy="112.1" r="0.9" fill="#d4dade" opacity=".9"/>
<line x1="817.0" y1="112.7" x2="817.3" y2="117.7" stroke="#33434f" stroke-width="1.3" opacity=".75"/>
<ellipse cx="817.0" cy="112.7" rx="2.6" ry="2.0" fill="#3a4955"/>
<circle cx="816.5" cy="112.4" r="0.9" fill="#d4dade" opacity=".9"/>
<line x1="757.1" y1="123.0" x2="757.4" y2="128.0" stroke="#33434f" stroke-width="1.3" opacity=".75"/>
<ellipse cx="757.1" cy="123.0" rx="2.6" ry="2.0" fill="#3a4955"/>
<circle cx="756.6" cy="122.7" r="0.9" fill="#d4dade" opacity=".9"/>
<line x1="790.9" y1="126.8" x2="791.2" y2="131.8" stroke="#33434f" stroke-width="1.3" opacity=".75"/>
<ellipse cx="790.9" cy="126.8" rx="2.6" ry="2.0" fill="#3a4955"/>
<circle cx="790.4" cy="126.5" r="0.9" fill="#d4dade" opacity=".9"/>
<line x1="803.5" y1="131.2" x2="803.8" y2="136.2" stroke="#33434f" stroke-width="1.3" opacity=".75"/>
<ellipse cx="803.5" cy="131.2" rx="2.6" ry="2.0" fill="#3a4955"/>
<circle cx="803.0" cy="130.9" r="0.9" fill="#d4dade" opacity=".9"/>
<line x1="821.1" y1="128.7" x2="821.4" y2="133.7" stroke="#33434f" stroke-width="1.3" opacity=".75"/>
<ellipse cx="821.1" cy="128.7" rx="2.6" ry="2.0" fill="#3a4955"/>
<circle cx="820.6" cy="128.4" r="0.9" fill="#d4dade" opacity=".9"/>
<line x1="742.7" y1="135.6" x2="743.0" y2="140.6" stroke="#33434f" stroke-width="1.3" opacity=".75"/>
<ellipse cx="742.7" cy="135.6" rx="2.6" ry="2.0" fill="#3a4955"/>
<circle cx="742.2" cy="135.3" r="0.9" fill="#d4dade" opacity=".9"/>
<line x1="756.2" y1="143.1" x2="756.5" y2="148.1" stroke="#33434f" stroke-width="1.3" opacity=".75"/>
<ellipse cx="756.2" cy="143.1" rx="2.6" ry="2.0" fill="#3a4955"/>
<circle cx="755.7" cy="142.8" r="0.9" fill="#d4dade" opacity=".9"/>
<line x1="753.8" y1="158.5" x2="754.1" y2="163.5" stroke="#33434f" stroke-width="1.3" opacity=".75"/>
<ellipse cx="753.8" cy="158.5" rx="2.6" ry="2.0" fill="#3a4955"/>
<circle cx="753.3" cy="158.2" r="0.9" fill="#d4dade" opacity=".9"/>
<line x1="808.0" y1="156.5" x2="808.3" y2="161.5" stroke="#33434f" stroke-width="1.3" opacity=".75"/>
<ellipse cx="808.0" cy="156.5" rx="2.6" ry="2.0" fill="#3a4955"/>
<circle cx="807.5" cy="156.2" r="0.9" fill="#d4dade" opacity=".9"/>
<line x1="785.2" y1="171.2" x2="785.5" y2="176.2" stroke="#33434f" stroke-width="1.3" opacity=".75"/>
<ellipse cx="785.2" cy="171.2" rx="2.6" ry="2.0" fill="#3a4955"/>
<circle cx="784.7" cy="170.9" r="0.9" fill="#d4dade" opacity=".9"/>
<line x1="767.2" y1="177.7" x2="767.5" y2="182.7" stroke="#33434f" stroke-width="1.3" opacity=".75"/>
<ellipse cx="767.2" cy="177.7" rx="2.6" ry="2.0" fill="#3a4955"/>
<circle cx="766.7" cy="177.4" r="0.9" fill="#d4dade" opacity=".9"/>
<line x1="787.6" y1="153.2" x2="787.9" y2="158.2" stroke="#33434f" stroke-width="1.3" opacity=".75"/>
<ellipse cx="787.6" cy="153.2" rx="2.6" ry="2.0" fill="#3a4955"/>
<circle cx="787.1" cy="152.9" r="0.9" fill="#d4dade" opacity=".9"/>
<line x1="803.1" y1="150.0" x2="803.4" y2="155.0" stroke="#33434f" stroke-width="1.3" opacity=".75"/>
<ellipse cx="803.1" cy="150.0" rx="2.6" ry="2.0" fill="#3a4955"/>
<circle cx="802.6" cy="149.7" r="0.9" fill="#d4dade" opacity=".9"/>
<line x1="773.7" y1="141.8" x2="774.0" y2="146.8" stroke="#33434f" stroke-width="1.3" opacity=".75"/>
<ellipse cx="773.7" cy="141.8" rx="2.6" ry="2.0" fill="#3a4955"/>
<circle cx="773.2" cy="141.5" r="0.9" fill="#d4dade" opacity=".9"/>
</g>
</g>
<text x="26.4" y="1267.8" font-size="19.8" fill="#1a1a1a" font-weight="normal" font-style="normal" text-anchor="start" textLength="157.2" lengthAdjust="spacingAndGlyphs" stroke="#fff" stroke-width="0.3">LP/INFOGRAPHIE.</text>
<text x="208.2" y="1267.8" font-size="19.8" fill="#1a1a1a" font-weight="normal" font-style="normal" text-anchor="start" textLength="633.4" lengthAdjust="spacingAndGlyphs" stroke="#fff" stroke-width="0.3">SOURCES : UNIVERSITÉ JOHNS HOPKINS ET SANTÉ PUBLIQUE FRANCE</text>
</svg>
</body></html>
